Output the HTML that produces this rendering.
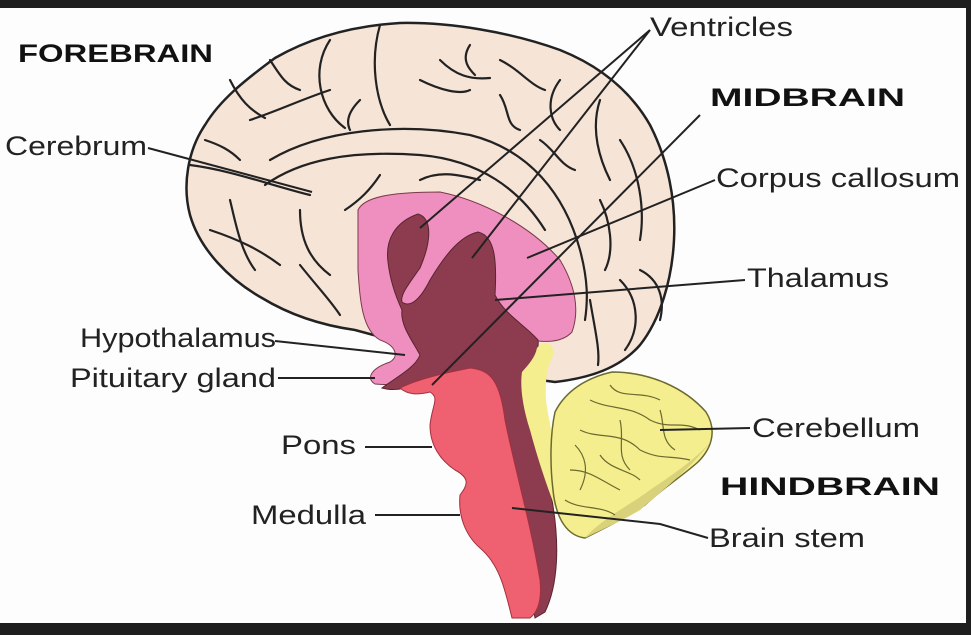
<!DOCTYPE html>
<html><head><meta charset="utf-8"><style>
html,body{margin:0;padding:0;background:#fff}
svg{display:block}
text{font-family:"Liberation Sans",Arial,sans-serif;fill:#222}
.l{font-size:27px}
.b{font-size:25px;font-weight:bold;fill:#111}
</style></head><body>
<svg width="971" height="635" viewBox="0 0 971 635" xmlns="http://www.w3.org/2000/svg">
<rect width="971" height="635" fill="#fdfdfd"/>
<rect x="0" y="0" width="971" height="8" fill="#1e1e1e"/>
<rect x="0" y="623" width="971" height="12" fill="#1e1e1e"/>
<rect x="966" y="0" width="5" height="635" fill="#1e1e1e"/>

<!-- cerebrum -->
<path d="M355,330 C320,325 290,315 262,298 C230,280 200,250 190,215 C182,185 188,150 205,125 C220,100 245,80 275,58 C310,38 350,26 400,23 C450,22 510,32 560,50 C600,66 630,90 650,125 C668,160 676,200 674,240 C672,280 660,320 640,345 C620,368 590,378 555,382 L540,380 L355,330 Z" fill="#f6e4d7" stroke="#222" stroke-width="2.5"/>
<g fill="none" stroke="#222" stroke-width="2.2" stroke-linecap="round">
<path d="M270,160 C320,130 400,122 470,135 C530,150 565,195 580,250 C588,280 588,300 585,320"/>
<path d="M265,185 C300,160 350,150 420,155 C480,160 520,190 545,230"/>
<path d="M190,165 C230,170 270,185 310,195"/>
<path d="M330,40 C310,70 320,110 345,128"/>
<path d="M380,25 C370,60 375,100 390,125"/>
<path d="M230,80 C240,100 250,110 265,118"/>
<path d="M420,80 C440,90 460,95 470,90"/>
<path d="M330,90 C300,100 280,110 250,120"/>
<path d="M500,60 C520,70 530,85 545,90"/>
<path d="M560,80 C545,100 550,120 560,130"/>
<path d="M600,100 C590,130 600,160 610,180"/>
<path d="M620,140 C640,170 645,210 640,240"/>
<path d="M600,200 C610,220 615,250 605,270"/>
<path d="M210,230 C240,240 260,250 280,265"/>
<path d="M300,210 C300,240 310,260 330,275"/>
<path d="M230,200 C235,220 240,250 255,270"/>
<path d="M300,265 C320,290 330,300 340,315"/>
<path d="M420,180 C440,170 460,175 480,180"/>
<path d="M380,175 C370,190 360,200 345,210"/>
<path d="M620,280 C640,300 640,330 625,350"/>
<path d="M590,300 C595,330 600,350 598,365"/>
<path d="M640,270 C660,280 665,300 660,320"/>
<path d="M500,95 C510,110 505,125 520,130"/>
<path d="M470,45 C460,60 470,70 475,75"/>
<path d="M440,60 C455,75 470,80 490,78"/>
<path d="M270,60 C280,75 285,85 300,90"/>
<path d="M540,140 C555,150 560,165 575,170"/>
<path d="M205,140 C220,145 230,150 240,160"/>
<path d="M360,100 C350,110 345,120 350,130"/>
</g>

<!-- pink -->
<path d="M358,210 C365,195 400,192 440,192 C480,200 530,225 560,260 C575,285 580,310 572,332 C560,345 540,342 515,338 L440,372 C420,382 395,386 375,384 C365,378 372,368 390,362 C400,356 395,345 380,340 C362,330 360,300 358,270 Z" fill="#ef8fc0" stroke="#7a3a4a" stroke-width="1"/>
<!-- maroon -->
<path d="M388,262 C385,240 395,222 418,214 C432,218 432,240 420,268 C408,285 400,295 402,302 C410,308 420,300 430,280 C445,255 460,236 478,232 C495,236 497,260 495,295 C505,315 525,325 538,340 C540,355 528,365 522,378 C525,410 540,450 552,500 C560,545 558,585 545,612 L535,618 C525,560 512,480 496,392 C480,372 460,370 432,380 C410,388 395,392 382,388 C395,378 415,368 420,355 C412,340 400,325 402,310 C395,295 390,280 388,262 Z" fill="#8c3c4e" stroke="#5a2530" stroke-width="1"/>
<!-- red -->
<path d="M400,388 C420,378 450,372 470,368 C490,370 500,380 505,420 C515,470 530,520 540,580 C542,600 538,612 530,618 L512,618 C505,590 500,565 480,548 C465,535 458,515 460,495 C468,485 470,478 455,470 C440,460 430,445 430,425 C432,405 440,398 430,392 C418,395 408,395 400,388 Z" fill="#ef6070" stroke="#a33040" stroke-width="1"/>
<!-- yellow strip -->
<path d="M537,348 C545,338 556,345 553,356 C547,366 545,380 546,400 C548,420 556,440 552,470 C560,490 568,505 560,520 C548,490 538,460 530,430 C522,405 520,385 522,372 C528,365 535,358 537,348 Z" fill="#f4ee8e"/>
<!-- cerebellum -->
<path d="M555,412 C565,392 585,378 612,372 C650,372 685,388 706,412 C716,428 714,446 698,462 C680,478 660,490 645,505 C625,518 605,528 585,538 C568,536 556,520 553,490 C550,465 550,435 555,412 Z" fill="#f4ee8e" stroke="#6b6a30" stroke-width="1.5"/>
<path d="M712,440 C690,470 660,492 640,510 C620,522 600,530 585,538 C600,520 630,505 650,490 C680,470 700,455 712,440 Z" fill="#d9d27a"/>
<g fill="none" stroke="#6b6a30" stroke-width="1.2">
<path d="M590,400 C610,410 630,405 650,420 C670,430 680,420 700,430"/>
<path d="M580,430 C600,440 620,430 640,450 C660,460 670,455 690,460"/>
<path d="M570,470 C590,470 600,480 620,490"/>
<path d="M575,445 C585,455 590,470 580,490"/>
<path d="M610,385 C620,400 640,390 660,400"/>
<path d="M600,455 C610,470 630,470 640,480"/>
<path d="M565,500 C580,510 600,505 615,515"/>
<path d="M620,420 C625,440 615,455 630,470"/>
<path d="M660,410 C665,425 660,440 675,450"/>
</g>

<!-- leader lines -->
<g stroke="#222" stroke-width="2" fill="none">
<path d="M650,30 L420,228"/>
<path d="M650,30 L472,258"/>
<path d="M700,115 L432,385"/>
<path d="M715,180 L527,258"/>
<path d="M745,280 L495,300"/>
<path d="M148,148 L312,192"/>
<path d="M275,341 L405,355"/>
<path d="M278,378 L375,378"/>
<path d="M750,428 L660,430"/>
<path d="M365,447 L432,447"/>
<path d="M375,515 L460,515"/>
<path d="M708,538 L660,524 L512,508"/>
</g>

<!-- labels -->
<text class="b" x="18" y="62" textLength="195" lengthAdjust="spacingAndGlyphs">FOREBRAIN</text>
<text class="b" x="710" y="106" textLength="195" lengthAdjust="spacingAndGlyphs">MIDBRAIN</text>
<text class="b" x="720" y="495" textLength="220" lengthAdjust="spacingAndGlyphs">HINDBRAIN</text>
<text class="l" x="650" y="36" textLength="143" lengthAdjust="spacingAndGlyphs">Ventricles</text>
<text class="l" x="5" y="155" textLength="142" lengthAdjust="spacingAndGlyphs">Cerebrum</text>
<text class="l" x="716" y="187" textLength="244" lengthAdjust="spacingAndGlyphs">Corpus callosum</text>
<text class="l" x="747" y="287" textLength="142" lengthAdjust="spacingAndGlyphs">Thalamus</text>
<text class="l" x="80" y="347" textLength="196" lengthAdjust="spacingAndGlyphs">Hypothalamus</text>
<text class="l" x="70" y="387" textLength="206" lengthAdjust="spacingAndGlyphs">Pituitary gland</text>
<text class="l" x="752" y="437" textLength="168" lengthAdjust="spacingAndGlyphs">Cerebellum</text>
<text class="l" x="281" y="454" textLength="75" lengthAdjust="spacingAndGlyphs">Pons</text>
<text class="l" x="251" y="524" textLength="115" lengthAdjust="spacingAndGlyphs">Medulla</text>
<text class="l" x="709" y="547" textLength="156" lengthAdjust="spacingAndGlyphs">Brain stem</text>
</svg>
</body></html>
